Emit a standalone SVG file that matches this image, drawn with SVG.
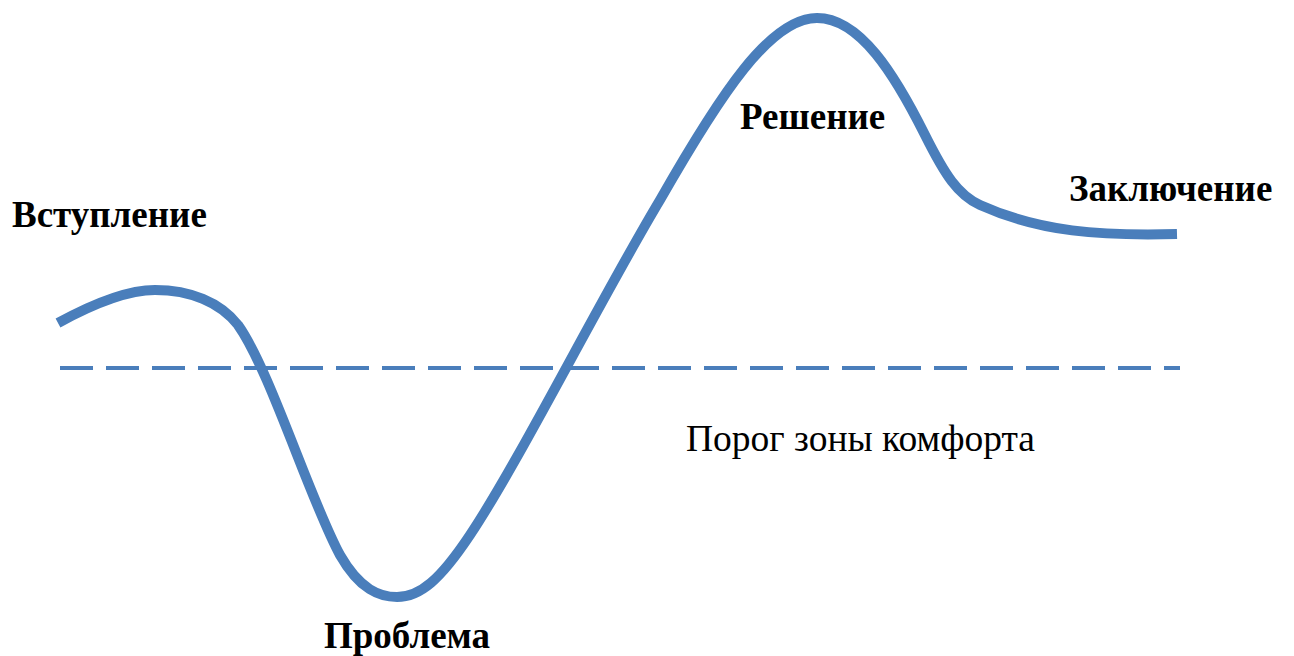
<svg xmlns="http://www.w3.org/2000/svg" width="1294" height="656" viewBox="0 0 1294 656">
<style>
.curve{fill:none;stroke:#4A7EBB;stroke-width:10;stroke-linecap:butt}
.dash{fill:none;stroke:#4A7EBB;stroke-width:4;stroke-dasharray:33 13}
.lbl{font-family:"Liberation Serif","Times New Roman",serif;font-weight:bold;font-size:37px;fill:#000}
.reg{font-family:"Liberation Serif","Times New Roman",serif;font-size:37.5px;fill:#000}
</style>
<rect width="1294" height="656" fill="#fff"/>
<g id="connectors">
<line class="dash" x1="60" y1="368" x2="1180" y2="368"/>
<path class="curve" d="M 58,323 C 100,300 130,290 155,290 C 190,290 220,302 238,325 C 270,370 310,500 340,555 C 360,590 380,597 397,597 C 420,597 440,580 470,535 C 520,460 600,300 660,200 C 720,95 770,18 817,18 C 860,18 895,75 925,135 C 945,175 958,195 980,205 C 1040,232 1100,236 1177,234"/>
</g>
<g id="intro"><text class="lbl" x="12" y="227">Вступление</text></g>
<g id="problem"><text class="lbl" x="324" y="648">Проблема</text></g>
<g id="solution"><text class="lbl" x="740" y="129">Решение</text></g>
<g id="conclusion"><text class="lbl" x="1069" y="201">Заключение</text></g>
<g id="threshold"><text class="reg" x="686" y="451">Порог зоны комфорта</text></g>
</svg>
